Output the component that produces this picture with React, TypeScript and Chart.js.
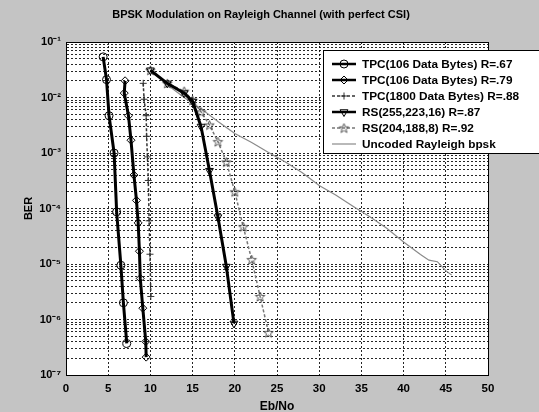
import React, { useEffect, useRef } from 'react';
import { Chart, registerables } from 'chart.js';
import { drawPoint } from 'chart.js/helpers';

Chart.register(...registerables);

const titleText = 'BPSK Modulation on Rayleigh Channel (with perfect CSI)';
const xLabel = 'Eb/No';
const yLabel = 'BER';
const xMin = 0;
const xMax = 50;
const xStep = 5;
const yDecades = [-7, -6, -5, -4, -3, -2, -1];
const yMantissas = [1, 2, 3, 4, 5, 6, 7, 8, 9];

const labels = [
  'TPC(106 Data Bytes) R=.67',
  'TPC(106 Data Bytes) R=.79',
  'TPC(1800 Data Bytes) R=.88',
  'RS(255,223,16) R=.87',
  'RS(204,188,8) R=.92',
  'Uncoded Rayleigh bpsk',
];

const tpc67X = [4.4, 4.8, 5.1, 5.7, 6.0, 6.5, 6.8, 7.2];
const tpc67Y = [5.4e-2, 2.1e-2, 4.7e-3, 1.0e-3, 8.7e-5, 9.5e-6, 2.0e-6, 3.7e-7];

const tpc79X = [7.0, 6.9, 7.4, 7.7, 8.05, 8.35, 8.55, 8.7, 8.8, 9.1, 9.45, 9.5];
const tpc79Y = [2.0e-2, 1.2e-2, 4.7e-3, 1.7e-3, 4.0e-4, 1.4e-4, 5.5e-5, 1.7e-5, 5.5e-6, 1.6e-6, 4.0e-7, 2.1e-7];

const tpc88X = [9.15, 9.25, 9.5, 9.55, 9.65, 9.75, 9.85, 9.95, 10.05];
const tpc88Y = [1.8e-2, 9.3e-3, 4.7e-3, 2.0e-3, 8.5e-4, 3.2e-4, 6.0e-5, 1.5e-5, 2.6e-6];

const rs87X = [10, 12, 14, 15, 16, 17, 18, 19, 19.9];
const rs87Y = [3.1e-2, 1.8e-2, 1.2e-2, 8.5e-3, 3.0e-3, 4.8e-4, 7.0e-5, 9.0e-6, 8.5e-7];

const rs92X = [10, 12, 14, 15, 16, 17, 18, 19, 20, 21, 22, 23, 24];
const rs92Y = [3.1e-2, 1.8e-2, 1.3e-2, 8.9e-3, 5.5e-3, 3.2e-3, 1.6e-3, 6.9e-4, 2.0e-4, 4.7e-5, 1.2e-5, 2.6e-6, 5.8e-7];

const uncodedX = [10, 12, 14, 16, 18, 20, 22, 24, 26, 28, 30, 32, 34, 36, 38, 40, 42, 43, 44, 45, 45.7];
const uncodedY = [3.16e-2, 1.7e-2, 1.0e-2, 6.3e-3, 3.7e-3, 2.24e-3, 1.55e-3, 1.02e-3, 6.9e-4, 4.4e-4, 2.6e-4, 1.74e-4, 1.1e-4, 7.1e-5, 4.4e-5, 2.5e-5, 1.48e-5, 1.17e-5, 1.1e-5, 7.6e-6, 6.3e-6];

const pts = (xs: number[], ys: number[]) => xs.map((x, i) => ({ x, y: ys[i] }));

const SUP: Record<string, string> = {
  '-': '\u207B', '0': '\u2070', '1': '\u00B9', '2': '\u00B2', '3': '\u00B3',
  '4': '\u2074', '5': '\u2075', '6': '\u2076', '7': '\u2077', '8': '\u2078', '9': '\u2079',
};
const sup = (s: string) => s.split('').map((c) => SUP[c] || c).join('');

const yTickValues: number[] = [];
yDecades.forEach((d) => {
  if (d === yDecades[yDecades.length - 1]) {
    yTickValues.push(Math.pow(10, d));
  } else {
    yMantissas.forEach((m) => yTickValues.push(m * Math.pow(10, d)));
  }
});

const FONT = '"Liberation Sans", Arial, sans-serif';
const GRID = 'rgba(0,0,0,0.85)';

function makePentagram(color: string, r: number) {
  const size = Math.ceil(2 * r + 3);
  const c = document.createElement('canvas');
  c.width = size;
  c.height = size;
  const g = c.getContext('2d')!;
  const cx = size / 2;
  const cy = size / 2 + 0.5;
  g.strokeStyle = color;
  g.lineWidth = 1;
  g.beginPath();
  for (let k = 0; k < 10; k++) {
    const rr = k % 2 === 0 ? r : r * 0.42;
    const ang = -Math.PI / 2 + (k * Math.PI) / 5;
    const px = cx + rr * Math.cos(ang);
    const py = cy + rr * Math.sin(ang);
    if (k === 0) g.moveTo(px, py);
    else g.lineTo(px, py);
  }
  g.closePath();
  g.stroke();
  return c;
}

const decor = {
  id: 'decor',
  beforeDraw(chart: any) {
    const { ctx, chartArea: a, width, height } = chart;
    ctx.save();
    ctx.fillStyle = '#c4c4c4';
    ctx.fillRect(0, 0, width, height);
    ctx.fillStyle = '#ffffff';
    ctx.fillRect(a.left, a.top, a.right - a.left, a.bottom - a.top);
    ctx.restore();
  },
  afterDraw(chart: any) {
    const { ctx, chartArea: a } = chart;
    ctx.save();
    ctx.strokeStyle = '#000';
    ctx.lineWidth = 1;
    ctx.setLineDash([]);
    ctx.strokeRect(Math.round(a.left) + 0.5, Math.round(a.top) + 0.5, a.right - a.left, a.bottom - a.top);

    // title
    ctx.fillStyle = '#000';
    ctx.font = `bold 11px ${FONT}`;
    ctx.textAlign = 'center';
    ctx.textBaseline = 'middle';
    ctx.fillText(titleText, 261, 15);

    // legend
    const lx = 323;
    const ly = 50;
    const lw = 230;
    const lh = 103;
    ctx.fillStyle = '#fff';
    ctx.fillRect(lx, ly, lw, lh);
    ctx.strokeStyle = '#000';
    ctx.strokeRect(lx + 0.5, ly + 0.5, lw, lh);
    ctx.font = `bold 11.8px ${FONT}`;
    ctx.textAlign = 'left';
    chart.data.datasets.forEach((ds: any, i: number) => {
      const y = ly + 14 + i * 16;
      ctx.save();
      ctx.strokeStyle = ds.borderColor;
      ctx.lineWidth = Math.min(ds.borderWidth, 2.5);
      ctx.setLineDash(ds.borderDash || []);
      ctx.beginPath();
      ctx.moveTo(332, y);
      ctx.lineTo(356, y);
      ctx.stroke();
      ctx.setLineDash([]);
      if (ds.pointRadius > 0) {
        ctx.strokeStyle = ds.pointBorderColor;
        ctx.fillStyle = 'rgba(255,255,255,0)';
        ctx.lineWidth = ds.pointBorderWidth;
        drawPoint(ctx, { pointStyle: ds.pointStyle, radius: ds.pointRadius, rotation: ds.pointRotation || 0, borderWidth: ds.pointBorderWidth }, 344, y);
      }
      ctx.restore();
      ctx.fillStyle = '#000';
      ctx.fillText(ds.label, 362, y + 1);
    });
    ctx.restore();
  },
};

export default function App() {
  const ref = useRef<HTMLCanvasElement | null>(null);

  useEffect(() => {
    if (!ref.current) return;
    const star = makePentagram('#555', 5);
    const mk = (label: string, data: any[], color: string, width: number, dash: number[], style: any, radius: number, rot = 0) => ({
      label,
      data,
      borderColor: color,
      borderWidth: width,
      borderDash: dash,
      pointStyle: style,
      pointRadius: radius,
      pointRotation: rot,
      pointBorderColor: color,
      pointBackgroundColor: 'rgba(255,255,255,0)',
      pointBorderWidth: 1,
      showLine: true,
      fill: false,
      tension: 0,
    });
    const chart = new Chart(ref.current, {
      type: 'line',
      data: {
        datasets: [
          mk(labels[0], pts(tpc67X, tpc67Y), '#000', 3, [], 'circle', 4),
          mk(labels[1], pts(tpc79X, tpc79Y), '#000', 3, [], 'rectRot', 4),
          mk(labels[2], pts(tpc88X, tpc88Y), '#333', 1.5, [3, 2], 'cross', 3.5),
          mk(labels[3], pts(rs87X, rs87Y), '#000', 3, [], 'triangle', 4.5, 180),
          mk(labels[4], pts(rs92X, rs92Y), '#777', 1.5, [3, 2], star, 5),
          mk(labels[5], pts(uncodedX, uncodedY), '#8a8a8a', 1.2, [], 'circle', 0),
        ] as any,
      },
      options: {
        responsive: false,
        animation: false,
        devicePixelRatio: 1,
        layout: { padding: { left: 0, right: 51, top: 42, bottom: 0 } },
        plugins: { legend: { display: false }, tooltip: { enabled: false }, title: { display: false } },
        scales: {
          x: {
            type: 'linear',
            min: xMin,
            max: xMax,
            ticks: { stepSize: xStep, color: '#000', font: { family: FONT, size: 11.5, weight: 'bold' }, padding: 7, maxRotation: 0 },
            grid: { color: GRID, lineWidth: 1, drawTicks: false },
            border: { display: true, color: '#000', dash: [2, 2] },
            title: { display: true, text: xLabel, color: '#000', font: { family: FONT, size: 12, weight: 'bold' }, padding: { top: 0, bottom: -2 } },
            afterFit: (s: any) => { s.height = 37; },
          },
          y: {
            type: 'logarithmic',
            min: 1e-7,
            max: 1e-1,
            afterBuildTicks: (s: any) => { s.ticks = yTickValues.map((v) => ({ value: v })); },
            ticks: {
              autoSkip: false,
              color: '#000',
              font: { family: FONT, size: 11, weight: 'bold' },
              padding: 5,
              callback: (v: any) => {
                const l = Math.log10(Number(v));
                if (Math.abs(l - Math.round(l)) < 1e-6) return '10' + sup(String(Math.round(l)));
                return '';
              },
            },
            grid: { color: GRID, lineWidth: 1, drawTicks: false },
            border: { display: true, color: '#000', dash: [2, 2] },
            title: { display: true, text: yLabel, color: '#000', font: { family: FONT, size: 11, weight: 'bold' }, padding: { top: 22, bottom: 0 } },
            afterFit: (s: any) => { s.width = 66; },
          },
        },
      } as any,
      plugins: [decor],
    });
    return () => chart.destroy();
  }, []);

  return (
    <div style={{ position: 'absolute', left: 0, top: 0, width: 539, height: 412 }}>
      <canvas ref={ref} width={539} height={412} style={{ display: 'block' }} />
    </div>
  );
}
